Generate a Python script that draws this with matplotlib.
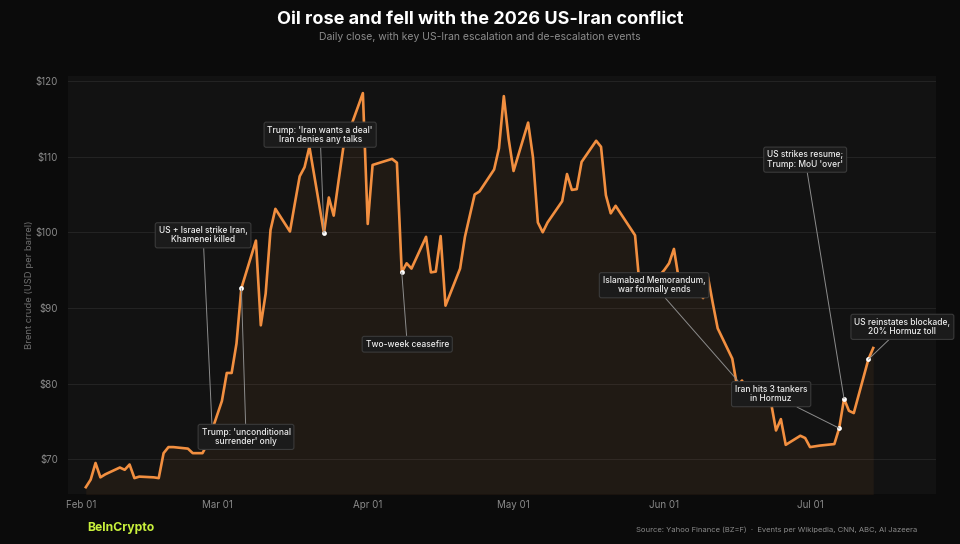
import matplotlib
matplotlib.use('Agg')
import matplotlib.pyplot as plt
import matplotlib.dates as mdates
import pandas as pd
import numpy as np

plt.rcParams['font.family'] = ['Inter', 'DejaVu Sans']

# ---------------- data ----------------
dates = [
    '2026-02-02', '2026-02-03', '2026-02-04', '2026-02-05', '2026-02-06',
    '2026-02-09', '2026-02-10', '2026-02-11', '2026-02-12', '2026-02-13',
    '2026-02-16', '2026-02-17', '2026-02-18', '2026-02-19', '2026-02-20',
    '2026-02-23', '2026-02-24', '2026-02-25', '2026-02-26', '2026-02-27',
    '2026-03-02', '2026-03-03', '2026-03-04', '2026-03-05', '2026-03-06',
    '2026-03-09', '2026-03-10', '2026-03-11', '2026-03-12', '2026-03-13',
    '2026-03-16', '2026-03-17', '2026-03-18', '2026-03-19', '2026-03-20',
    '2026-03-23', '2026-03-24', '2026-03-25', '2026-03-26', '2026-03-27',
    '2026-03-30', '2026-03-31', '2026-04-01', '2026-04-02',
    '2026-04-06', '2026-04-07', '2026-04-08', '2026-04-09', '2026-04-10',
    '2026-04-13', '2026-04-14', '2026-04-15', '2026-04-16', '2026-04-17',
    '2026-04-20', '2026-04-21', '2026-04-22', '2026-04-23', '2026-04-24',
    '2026-04-27', '2026-04-28', '2026-04-29', '2026-04-30', '2026-05-01',
    '2026-05-04', '2026-05-05', '2026-05-06', '2026-05-07', '2026-05-08',
    '2026-05-11', '2026-05-12', '2026-05-13', '2026-05-14', '2026-05-15',
    '2026-05-18', '2026-05-19', '2026-05-20', '2026-05-21', '2026-05-22',
    '2026-05-26', '2026-05-27', '2026-05-28', '2026-05-29',
    '2026-06-01', '2026-06-02', '2026-06-03', '2026-06-04', '2026-06-05',
    '2026-06-08', '2026-06-09', '2026-06-10', '2026-06-11', '2026-06-12',
    '2026-06-15', '2026-06-16', '2026-06-17', '2026-06-18', '2026-06-19',
    '2026-06-22', '2026-06-23', '2026-06-24', '2026-06-25', '2026-06-26',
    '2026-06-29', '2026-06-30', '2026-07-01', '2026-07-02', '2026-07-03',
    '2026-07-06', '2026-07-07', '2026-07-08', '2026-07-09', '2026-07-10',
    '2026-07-13', '2026-07-14',
]
brent = [
    66.3, 67.3, 69.5, 67.6, 68.0,
    68.9, 68.6, 69.3, 67.5, 67.7,
    67.6, 67.5, 70.8, 71.6, 71.6,
    71.4, 70.8, 70.8, 70.8, 72.0,
    77.7, 81.4, 81.4, 85.3, 92.6,
    98.9, 87.7, 91.9, 100.3, 103.1,
    100.1, 103.8, 107.4, 108.6, 111.3,
    99.9, 104.6, 102.2, 106.8, 111.3,
    116.6, 118.4, 101.1, 108.9,
    109.7, 109.2, 94.7, 95.9, 95.2,
    99.4, 94.7, 94.8, 99.5, 90.3,
    95.2, 99.4, 102.2, 105.0, 105.4,
    108.3, 111.1, 118.0, 112.3, 108.1,
    114.5, 109.9, 101.3, 100.0, 101.3,
    104.1, 107.7, 105.6, 105.7, 109.3,
    112.1, 111.3, 104.9, 102.5, 103.5,
    99.6, 92.5, 91.8, 92.8,
    95.0, 95.9, 97.8, 93.8, 92.8,
    92.2, 91.3, 94.1, 90.6, 87.3,
    83.3, 79.6, 80.4, 79.0, 78.4,
    78.8, 77.4, 73.8, 75.3, 71.9,
    73.1, 72.8, 71.6, 71.7, 71.8,
    72.0, 74.1, 78.0, 76.4, 76.1,
    83.2, 84.7,
]

event_dates = ['2026-02-28', '2026-03-06', '2026-03-23', '2026-04-08',
               '2026-06-18', '2026-07-07', '2026-07-08', '2026-07-13']
event_labels = [
    'US + Israel strike Iran,\nKhamenei killed',
    "Trump: 'unconditional\nsurrender' only",
    "Trump: 'Iran wants a deal'\nIran denies any talks",
    'Two-week ceasefire',
    'Islamabad Memorandum,\nwar formally ends',
    'Iran hits 3 tankers\nin Hormuz',
    "US strikes resume;\nTrump: MoU 'over'",
    'US reinstates blockade,\n20% Hormuz toll',
]

tick_dates = ['2026-02-01', '2026-03-01', '2026-04-01', '2026-05-01',
              '2026-06-01', '2026-07-01']
tick_labels = ['Feb 01', 'Mar 01', 'Apr 01', 'May 01', 'Jun 01', 'Jul 01']
ytick_values = [70, 80, 90, 100, 110, 120]
ytick_labels = ['$70', '$80', '$90', '$100', '$110', '$120']

# ---------------- layout (label box centres) ----------------
label_pos_dates = ['2026-02-26 03:00', '2026-03-06 23:00', '2026-03-22 05:00',
                   '2026-04-09 03:00', '2026-05-29 22:00', '2026-06-23 00:00',
                   '2026-06-30 00:00', '2026-07-20 00:00']
label_pos_vals = [99.6, 72.95, 112.9, 85.2, 93.0, 78.6, 109.6, 87.5]

# ---------------- figure ----------------
W, H = 960, 544
fig = plt.figure(figsize=(W / 100, H / 100), dpi=100, facecolor='#0b0b0b')
ax = fig.add_axes([68 / W, 1 - 494 / H, (936 - 68) / W, (494 - 76) / H])
ax.set_facecolor('#121212')

x = pd.to_datetime(dates)
ax.fill_between(x, brent, 60, color='#f28c3c', alpha=0.065, lw=0, zorder=1)
ax.plot(x, brent, color='#f28f40', lw=1.9, zorder=3)

ax.set_ylim(65.4, 120.66)
ax.set_xlim(pd.Timestamp('2026-01-29 08:00'), pd.Timestamp('2026-07-26 22:00'))

ax.set_yticks(ytick_values)
ax.set_yticklabels(ytick_labels)
ax.set_xticks(pd.to_datetime(tick_dates))
ax.set_xticklabels(tick_labels)
ax.tick_params(axis='both', length=0, colors='#8a8a8a', labelsize=7)
ax.tick_params(axis='y', pad=7)
ax.tick_params(axis='x', pad=4)
ax.grid(axis='y', color='#232323', lw=0.8)
ax.set_axisbelow(True)
for s in ax.spines.values():
    s.set_visible(False)

xnum = mdates.date2num(x)
for d, lab, ld, lv in zip(event_dates, event_labels, label_pos_dates, label_pos_vals):
    ed = pd.Timestamp(d)
    ev = float(np.interp(mdates.date2num(ed), xnum, brent))
    ax.scatter([ed], [ev], s=12, color='white', zorder=5, linewidths=0)
    ax.annotate(lab, xy=(ed, ev), xytext=(pd.Timestamp(ld), lv), textcoords='data',
                ha='center', va='center', fontsize=6.1, fontweight='medium',
                color='#ececec', linespacing=1.05, zorder=6,
                bbox=dict(boxstyle='round,pad=0.4,rounding_size=0.25',
                          fc='#1b1b1b', ec='#3a3a3a', lw=0.8),
                arrowprops=dict(arrowstyle='-', color='#8c8c8c', lw=0.7,
                                shrinkA=0, shrinkB=0))

fig.text(30 / W, 1 - 285 / H, 'Brent crude (USD per barrel)', rotation=90,
         ha='center', va='center', fontsize=6.8, color='#6e6e6e')

fig.text(0.5, 1 - 20 / H, 'Oil rose and fell with the 2026 US-Iran conflict',
         ha='center', va='center', fontsize=13, fontweight='bold', color='white')
fig.text(0.5, 1 - 37 / H, 'Daily close, with key US-Iran escalation and de-escalation events',
         ha='center', va='center', fontsize=7.5, color='#8c8c8c')
fig.text(87 / W, 1 - 528 / H, 'BeInCrypto', ha='left', va='center', fontsize=8.8,
         fontweight='bold', color='#c8f03c')
fig.text(917 / W, 1 - 530 / H,
         'Source: Yahoo Finance (BZ=F)  \u00b7  Events per Wikipedia, CNN, ABC, Al Jazeera',
         ha='right', va='center', fontsize=5.5, color='#8a8a8a')

fig.savefig('out.png', dpi=100, facecolor=fig.get_facecolor())
